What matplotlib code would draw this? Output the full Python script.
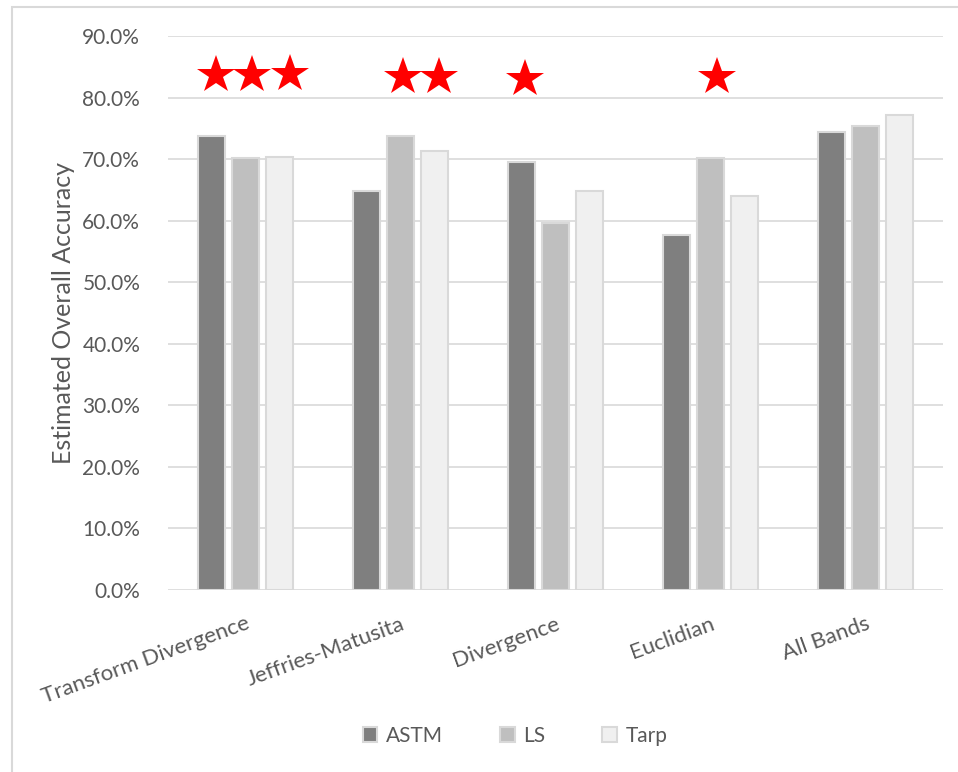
import numpy as np
import matplotlib
matplotlib.use('Agg')
import matplotlib.pyplot as plt
from matplotlib.patches import Rectangle
from matplotlib.ticker import PercentFormatter

plt.rcParams['font.family'] = ['Lato', 'DejaVu Sans']

# overall accuracy per band selection method
methods = ['Transform Divergence', 'Jeffries-Matusita', 'Divergence', 'Euclidian', 'All Bands']
astm = [73.7, 64.9, 69.6, 57.6, 74.4]
ls = [70.2, 73.7, 59.7, 70.2, 75.4]
tarp = [70.3, 71.3, 64.9, 64.0, 77.1]
series = ['ASTM', 'LS', 'Tarp']
colors = ['#7f7f7f', '#bfbfbf', '#f0f0f0']

# significance stars: (category index, x offset, y value)
star_cat = [0, 0, 0, 1, 1, 2, 3]
star_dx = [-0.19, 0.045, 0.29, 0.015, 0.25, -0.2, 0.04]
star_y = [83.6, 83.6, 83.8, 83.3, 83.3, 83.0, 83.4]

fig = plt.figure(figsize=(9.58, 7.72), dpi=100)
ax = fig.add_axes([168/958, 1 - 590/772, (943 - 168)/958, (590 - 36)/772])

x = np.arange(len(methods))
w = 0.175
step = 0.22
for i, (vals, name, c) in enumerate(zip([astm, ls, tarp], series, colors)):
    ax.bar(x + (i - 1)*step, vals, width=w, color=c, edgecolor='#d9d9d9',
           linewidth=1.5, label=name, zorder=3)

sx = np.array(star_cat) + np.array(star_dx)
ax.plot(sx, star_y, linestyle='none', marker='*', markersize=29,
        color='red', markeredgewidth=0, zorder=4)

ax.set_ylim(0, 90)
ax.set_xlim(-0.5, len(methods) - 0.5)
ax.set_yticks(np.arange(0, 91, 10))
ax.yaxis.set_major_formatter(PercentFormatter(decimals=1))
ax.grid(axis='y', color='#d9d9d9', linewidth=1.2, zorder=0)
for s in ax.spines.values():
    s.set_visible(False)
ax.tick_params(axis='y', length=0, labelsize=15, labelcolor='#595959', pad=20)
ax.set_xticks(x)
ax.set_xticklabels(methods, rotation=20, ha='right', va='top',
                   rotation_mode='anchor')
ax.tick_params(axis='x', length=0, labelsize=16, labelcolor='#595959', pad=17)
ax.set_ylabel('Estimated Overall Accuracy', fontsize=18, color='#595959', labelpad=5)

ax.legend(loc='center', bbox_to_anchor=(515/958, 1 - 736/772),
          bbox_transform=fig.transFigure, ncol=3, frameon=False,
          handlelength=0.7, handleheight=0.7, handletextpad=0.4,
          columnspacing=2.75, fontsize=15, labelcolor='#595959')

# chart border
fig.add_artist(Rectangle((12/958, -0.05), 1.1, 1.05 - 7/772, transform=fig.transFigure,
                         fill=False, edgecolor='#d9d9d9', linewidth=1.5))

fig.savefig('out.png', dpi=100)
